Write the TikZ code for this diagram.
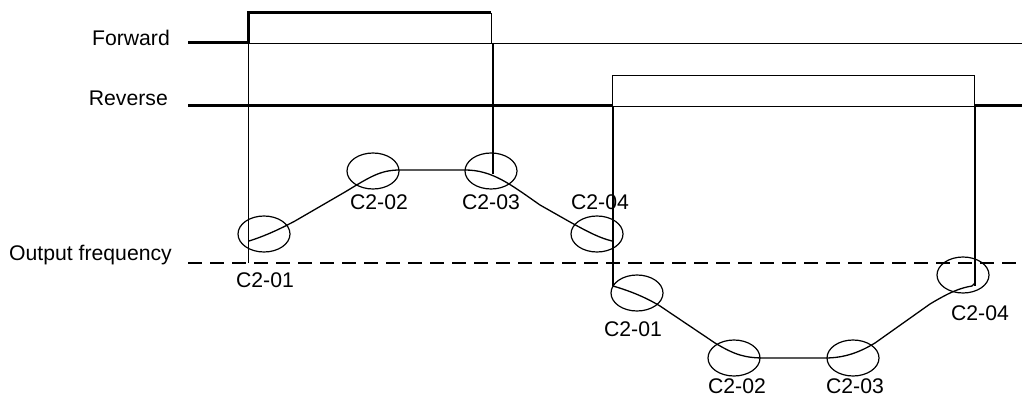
\documentclass[tikz,border=0pt]{standalone}
\usepackage{fontspec}
\setmainfont{Liberation Sans}
\usetikzlibrary{shapes.geometric, positioning}

\begin{document}
\begin{tikzpicture}[x=1pt, y=-1pt,
    sig/.style={line width=3pt},
    fineline/.style={line width=0.9pt},
    edge/.style={line width=2.5pt},
    zeroline/.style={line width=2.2pt, dash pattern=on 14pt off 8pt},
    ramp/.style={line width=1.3pt},
    ring/.style={ellipse, draw, line width=1.2pt, minimum width=52pt, minimum height=36pt, inner sep=0pt},
    lbl/.style={font=\fontsize{21.2}{25}\selectfont, inner sep=0pt}]

    \useasboundingbox (0,0) rectangle (1022,401);

    % signal names
    \node[lbl, anchor=base east] (fwd) at (170,46) {Forward};
    \node[lbl, anchor=base east] (rev) at (168,106) {Reverse};
    \node[lbl, anchor=base west] (fout) at (9,260) {Output frequency};

    % zero frequency
    \draw[zeroline] (188,263) -- (1022,263);

    % forward command
    \draw[sig] (188,43) -- (248,43) -- (248,13) -- (491,13);
    \draw[fineline] (248,13) -- (248,263);
    \draw[fineline] (248,43) -- (1022,43);
    \draw[fineline] (491,13) -- (491,43);
    \draw[edge] (493,43) -- (493,174);

    % reverse command
    \draw[sig] (188,106) -- (613,106);
    \draw[fineline] (612,106) -- (612,75) -- (974,75) -- (974,106);
    \draw[fineline] (613,106) -- (974,106);
    \draw[sig] (975,106) -- (1022,106);
    \draw[edge] (613,106) -- (613,286);
    \draw[line width=2pt] (975,106) -- (975,286);

    % forward run
    \draw[ramp] (249,241) .. controls (265,236) and (280,229) .. (295,221)
        -- (345,192) .. controls (370,177) and (380,170) .. (400,170)
        -- (465,170) .. controls (492,170) and (510,184) .. (540,205)
        -- (570,222) .. controls (590,233) and (600,238) .. (612,241);
    \node[ring] (sf1) at (264,234) {};
    \node[ring] (sf2) at (373,171) {};
    \node[ring] (sf3) at (491,171) {};
    \node[ring] (sf4) at (597,234) {};
    \node[lbl, anchor=base] (lf1) at (265,287) {C2-01};
    \node[lbl, anchor=base] (lf2) at (379,209) {C2-02};
    \node[lbl, anchor=base] (lf3) at (491,209) {C2-03};
    \node[lbl, anchor=base] (lf4) at (600,209) {C2-04};

    % reverse run
    \draw[ramp] (613,286) .. controls (630,291) and (645,297) .. (660,306)
        -- (715,343) .. controls (735,355) and (745,358) .. (765,358)
        -- (825,358) .. controls (845,358) and (860,352) .. (875,343)
        -- (930,304) .. controls (950,292) and (960,288) .. (972,286) -- (975,283);
    \node[ring] (sr1) at (637,293) {};
    \node[ring] (sr2) at (734,358) {};
    \node[ring] (sr3) at (853,358) {};
    \node[ring] (sr4) at (963,275) {};
    \node[lbl, anchor=base] (lr1) at (633,336) {C2-01};
    \node[lbl, anchor=base] (lr2) at (737,393) {C2-02};
    \node[lbl, anchor=base] (lr3) at (855,393) {C2-03};
    \node[lbl, anchor=base] (lr4) at (980,320) {C2-04};
\end{tikzpicture}
\end{document}
